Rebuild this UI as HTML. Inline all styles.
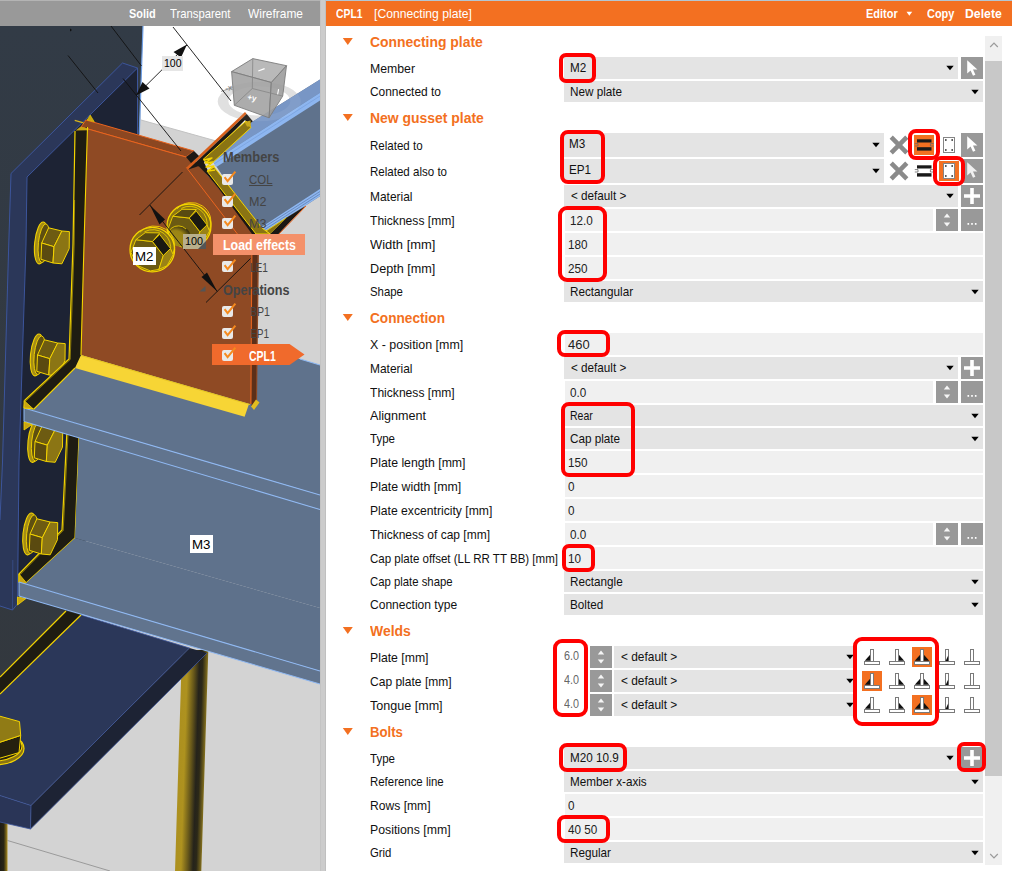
<!DOCTYPE html>
<html><head><meta charset="utf-8"><title>CPL1 Connecting plate</title><style>
html,body{margin:0;padding:0;background:#fff;}
body{width:1012px;height:871px;position:relative;overflow:hidden;font-family:"Liberation Sans",sans-serif;}
.r{position:absolute;display:block;box-sizing:content-box;}
.t{position:absolute;display:block;white-space:pre;transform-origin:0 50%;}
</style></head>
<body>
<svg class="r" style="left:0px;top:0px;" width="320" height="871" viewBox="0 0 320 871"><defs><linearGradient id="ag" x1="0" y1="0" x2="1" y2="0"><stop offset="0" stop-color="#ac901f"/><stop offset="0.22" stop-color="#ae921f"/><stop offset="0.48" stop-color="#65561a"/><stop offset="0.68" stop-color="#25231b"/><stop offset="0.8" stop-color="#2b2818"/><stop offset="1" stop-color="#85711d"/></linearGradient><linearGradient id="ag2" x1="0" y1="0" x2="1" y2="0"><stop offset="0" stop-color="#1f1d15"/><stop offset="0.5" stop-color="#2a2614"/><stop offset="1" stop-color="#a88a1c"/></linearGradient><linearGradient id="colg" x1="0" y1="0" x2="0" y2="1"><stop offset="0" stop-color="#323b46"/><stop offset="1" stop-color="#33383e"/></linearGradient></defs><rect x="0" y="0" width="320" height="871" fill="#d3d3d3"/><polygon points="139,26 320,26 320,170 141,120" fill="#ffffff" /><line x1="141" y1="120" x2="320" y2="170" stroke="#c2c2c2" stroke-width="1" /><line x1="7.5" y1="840.5" x2="110" y2="871" stroke="#9a9a9a" stroke-width="1" /><polygon points="0,26 143,26 139,140 100,400 80,600 82,616 0,695" fill="url(#colg)" /><line x1="143" y1="26" x2="139.3" y2="134" stroke="#6fa0e6" stroke-width="1.2" /><rect x="182" y="650" width="26.3" height="222" fill="url(#ag)" transform="translate(0,650) skewX(-1.81) translate(0,-650)"/><polygon points="0,822 7.5,822 7.5,871 0,871" fill="url(#ag2)" /><polygon points="81,615 189.5,648 31,805.5 0,795.5 0,694" fill="#2b3759" /><polygon points="189.5,648 207,653 30.5,829 31,805.5" fill="#1d2334" /><polygon points="0,795.5 31,805.5 30.5,829 0,822" fill="#2a3557" /><polyline points="81,615 189.5,648 31,805.5 0,795.5" fill="none" stroke="#3c559c" stroke-width="0.8" stroke-linejoin="round"/><polyline points="207,653 30.5,829 31,805.5" fill="none" stroke="#3c559c" stroke-width="0.8" stroke-linejoin="round"/><line x1="30.5" y1="829" x2="0" y2="822" stroke="#3c559c" stroke-width="0.8" /><polygon points="66,611 81,615 0,694 0,677" fill="#1e1c12" /><line x1="66" y1="611" x2="0" y2="677" stroke="#f4d400" stroke-width="1.2" /><line x1="81" y1="615" x2="0" y2="694" stroke="#f4d400" stroke-width="1.2" /><ellipse cx="-6" cy="748.5" rx="30" ry="16.5" fill="#8a7413" stroke="#f4d400" stroke-width="1.2"/><ellipse cx="-6" cy="746" rx="28" ry="15" fill="#25210f" stroke="#f4d400" stroke-width="1.1"/><polygon points="-3,743.2 20.7,735.4 19,752.6 -3,759" fill="#25210f" stroke="#f4d400" stroke-width="1" stroke-linejoin="round" /><polygon points="-3,715.4 19.5,721.6 20.7,735.4 -3,743.2" fill="#907b15" stroke="#f4d400" stroke-width="1" stroke-linejoin="round" /><polygon points="122.5,63 137.5,68 27,177 26,244 19,462 17.5,604 12.5,610 0,606 0,520 2.5,462 8.75,244 11,173.5" fill="#2b3759" /><polygon points="137.5,68 137.5,140 90,300 70,540 17.5,604 19,462 26,244 27,177" fill="#1d2334" /><polyline points="11,173.5 122.5,63 137.5,68 27,177 26,244 19,462 17.5,604" fill="none" stroke="#3c559c" stroke-width="1" stroke-linejoin="round"/><polyline points="11,173.5 8.75,244 2.5,462 0,520" fill="none" stroke="#3c559c" stroke-width="1" stroke-linejoin="round"/><line x1="137.5" y1="68" x2="137.5" y2="134" stroke="#3c559c" stroke-width="1" /><polyline points="0,606 12.5,610 17.5,604" fill="none" stroke="#3c559c" stroke-width="1" stroke-linejoin="round"/><line x1="12.5" y1="610" x2="12.8" y2="560" stroke="#3c559c" stroke-width="0.6" /><polygon points="67,430 79.5,436 75.5,538 25,584 19,582 19,574 62,530" fill="#1e1c12" /><polyline points="67,430 62,530 19,574 19,582" fill="none" stroke="#f4d400" stroke-width="1.2" stroke-linejoin="round"/><polyline points="68.2,431 63.2,530.5 20,574.8" fill="none" stroke="#f4d400" stroke-width="0.5" stroke-linejoin="round"/><polyline points="79,436 75,538 25,584" fill="none" stroke="#f4d400" stroke-width="1.1" stroke-linejoin="round"/><polygon points="19,574 19,583 27,583.5" fill="#c8a414" stroke="#f4d400" stroke-width="0.8" stroke-linejoin="round" /><polygon points="17.5,597 17.5,605 26,598.5" fill="#c8a414" stroke="#f4d400" stroke-width="0.8" stroke-linejoin="round" /><ellipse cx="41.2" cy="243" rx="6.5" ry="21.0" fill="#a48c16" stroke="#f4d400" stroke-width="1.1" transform="rotate(6 41.7 243)"/><ellipse cx="43.900000000000006" cy="243" rx="5.5" ry="19.5" fill="#5e4f11" stroke="#f4d400" stroke-width="0.9" transform="rotate(6 41.7 243)"/><polygon points="48.6,227.8 61.9,231.0 54.0,246.7 41.7,243.0" fill="#6d5b12" stroke="#f4d400" stroke-width="1" stroke-linejoin="round"/><polygon points="41.7,243.0 54.0,246.7 53.0,263.0 41.0,259.3" fill="#5a4a10" stroke="#f4d400" stroke-width="1" stroke-linejoin="round"/><polygon points="61.9,231.0 69.4,231.6 69.2,248.6 61.9,263.8 53.0,263.0 54.0,246.7" fill="#8b7514" stroke="#f4d400" stroke-width="1" stroke-linejoin="round"/><ellipse cx="37.0" cy="355" rx="6.5" ry="21.0" fill="#a48c16" stroke="#f4d400" stroke-width="1.1" transform="rotate(6 37.5 355)"/><ellipse cx="39.7" cy="355" rx="5.5" ry="19.5" fill="#5e4f11" stroke="#f4d400" stroke-width="0.9" transform="rotate(6 37.5 355)"/><polygon points="44.4,339.8 57.7,343.0 49.8,358.7 37.5,355.0" fill="#6d5b12" stroke="#f4d400" stroke-width="1" stroke-linejoin="round"/><polygon points="37.5,355.0 49.8,358.7 48.8,375.0 36.8,371.3" fill="#5a4a10" stroke="#f4d400" stroke-width="1" stroke-linejoin="round"/><polygon points="57.7,343.0 65.2,343.6 65.0,360.6 57.7,375.8 48.8,375.0 49.8,358.7" fill="#8b7514" stroke="#f4d400" stroke-width="1" stroke-linejoin="round"/><ellipse cx="29.5" cy="534" rx="6.5" ry="21.0" fill="#a48c16" stroke="#f4d400" stroke-width="1.1" transform="rotate(6 30 534)"/><ellipse cx="32.2" cy="534" rx="5.5" ry="19.5" fill="#5e4f11" stroke="#f4d400" stroke-width="0.9" transform="rotate(6 30 534)"/><polygon points="36.9,518.8 50.2,522.0 42.3,537.7 30.0,534.0" fill="#6d5b12" stroke="#f4d400" stroke-width="1" stroke-linejoin="round"/><polygon points="30.0,534.0 42.3,537.7 41.3,554.0 29.3,550.3" fill="#5a4a10" stroke="#f4d400" stroke-width="1" stroke-linejoin="round"/><polygon points="50.2,522.0 57.7,522.6 57.5,539.6 50.2,554.8 41.3,554.0 42.3,537.7" fill="#8b7514" stroke="#f4d400" stroke-width="1" stroke-linejoin="round"/><polygon points="75,368 34,409 24,408 320,495 320,365 300,359 258,346.5 81,350" fill="#5f728c" /><clipPath id="b3c"><rect x="0" y="421" width="120" height="60"/></clipPath><polygon points="79,437 320,509.5 320,608 75,538" fill="#5f728c" /><polygon points="75,538 320,608 320,671 19,582 25,584" fill="#5e718b" /><ellipse cx="34.5" cy="441.5" rx="6.5" ry="21.0" fill="#a48c16" stroke="#f4d400" stroke-width="1.1" transform="rotate(6 35 441.5)"/><ellipse cx="37.2" cy="441.5" rx="5.5" ry="19.5" fill="#5e4f11" stroke="#f4d400" stroke-width="0.9" transform="rotate(6 35 441.5)"/><polygon points="41.9,426.3 55.2,429.5 47.3,445.2 35.0,441.5" fill="#6d5b12" stroke="#f4d400" stroke-width="1" stroke-linejoin="round"/><polygon points="35.0,441.5 47.3,445.2 46.3,461.5 34.3,457.8" fill="#5a4a10" stroke="#f4d400" stroke-width="1" stroke-linejoin="round"/><polygon points="55.2,429.5 62.7,430.1 62.5,447.1 55.2,462.3 46.3,461.5 47.3,445.2" fill="#8b7514" stroke="#f4d400" stroke-width="1" stroke-linejoin="round"/><polygon points="24,408 320,495 320,509.5 24,421.5" fill="#61748e" /><line x1="24" y1="408" x2="320" y2="495" stroke="#8fb8f2" stroke-width="1.1" /><line x1="24" y1="421.5" x2="320" y2="509.5" stroke="#8fb8f2" stroke-width="1.1" /><line x1="24" y1="408" x2="24" y2="421.5" stroke="#8fb8f2" stroke-width="1" /><polygon points="24,422 24,430 32,424.5" fill="#c8a414" stroke="#f4d400" stroke-width="0.8" stroke-linejoin="round" /><polygon points="19,582 320,671 320,684 19,596" fill="#61748e" /><line x1="19" y1="582" x2="320" y2="671" stroke="#8fb8f2" stroke-width="1.1" /><line x1="19" y1="596" x2="320" y2="684" stroke="#8fb8f2" stroke-width="1.1" /><line x1="19" y1="582" x2="19" y2="596" stroke="#8fb8f2" stroke-width="1" /><line x1="300" y1="359" x2="320" y2="365" stroke="#8fb8f2" stroke-width="1.1" /><polygon points="86,120 194,151 186,157 81,127" fill="#8c4721" stroke="#ea641e" stroke-width="1" stroke-linejoin="round" /><polygon points="81,127 186,157 196,162 262,238 259,250 257,404 250,404 81,355" fill="#8f4a24" /><polygon points="252,238 257.5,246 256,406 251.5,406" fill="#5c2f19" /><line x1="252" y1="240" x2="250.8" y2="404" stroke="#ea641e" stroke-width="1" /><polyline points="81,127 186,157" fill="none" stroke="#ea641e" stroke-width="1" stroke-linejoin="round"/><line x1="186.4" y1="167.5" x2="252" y2="253" stroke="#ea641e" stroke-width="1" /><polygon points="90.2,115.1 94.3,121.8 87.1,120" fill="#c8a414" stroke="#f4d400" stroke-width="0.6" stroke-linejoin="round" /><line x1="74.7" y1="120.3" x2="83.5" y2="122.8" stroke="#d8b51c" stroke-width="1.2" /><polygon points="75,360 81,355 249,404 244.6,416.8 75,368" fill="#f7d535" /><polygon points="256,399.5 259.5,402.5 254,410 251,406.5" fill="#e2bd20" /><line x1="81" y1="355.5" x2="250" y2="404.5" stroke="#e8c420" stroke-width="1" /><polygon points="75,131 73,244 69,359 25,400 24,408 34,409 75,368 81,355 84,244 87.5,127" fill="#1e1c12" /><polygon points="75.6,130.6 80.5,126.7 88.5,128.5 88.3,130.2" fill="#c8a414" /><polyline points="75,131 73,244 69,359 25,400 24,408" fill="none" stroke="#f4d400" stroke-width="1.2" stroke-linejoin="round"/><polyline points="87.5,127 84,244 81,355" fill="none" stroke="#f4d400" stroke-width="1.1" stroke-linejoin="round"/><polyline points="74.6,200 74.2,244 70.2,359.5 26,400.8" fill="none" stroke="#f4d400" stroke-width="0.5" stroke-linejoin="round"/><polyline points="24,408 34,409 75,368" fill="none" stroke="#f4d400" stroke-width="1.1" stroke-linejoin="round"/><polygon points="24,400.5 24,408 33,408.7" fill="#c8a414" stroke="#f4d400" stroke-width="0.8" stroke-linejoin="round" /><path d="M217.7 101.5 a41.6 19.8 0 1 0 83.2 0 a41.6 19.8 0 1 0 -83.2 0 Z M228.3 101 a31 14.6 0 1 1 62 0 a31 14.6 0 1 1 -62 0 Z" fill="#dedede" fill-rule="evenodd"/><polygon points="186.4,167.5 245,112 246.7,114 188.3,169.4" fill="#d8601c" /><polygon points="188.3,169.4 246.7,114 253,121.5 249,125 245,120 201,165 196,167" fill="#1c1814" /><polygon points="186,157 194,151 199,156 191,163" fill="#1c1814" /><polygon points="195,165 203,160 208,171 257,234 252,234 218.6,188.4 207.9,175.8 199,166.5" fill="#1c1814" /><polygon points="213,161.5 252,122 320,79.6 320,196.3 266,231 262,234" fill="#5f728c" /><polygon points="213,161.5 252,122 320,79.6 320,92.7" fill="#7896c5" /><polygon points="213,161.5 320,92.7 320,100.4 216.4,167" fill="#8db6f0" /><line x1="214" y1="164" x2="320" y2="96" stroke="#7aa2de" stroke-width="0.8" /><polygon points="260,227.9 320,189 320,196.3 266,231" fill="#8db6f0" /><line x1="262" y1="228.5" x2="320" y2="191.5" stroke="#5a78a8" stroke-width="0.7" /><line x1="264" y1="230" x2="320" y2="194" stroke="#5a78a8" stroke-width="0.7" /><polygon points="266,231 286.8,217.5 270,234" fill="#8a7413" stroke="#f4d400" stroke-width="0.8" stroke-linejoin="round" /><polygon points="270,234 278.5,234 305.4,206 286.8,217.5" fill="#1c1814" /><line x1="278.5" y1="234.5" x2="306" y2="206" stroke="#ea641e" stroke-width="1" /><polygon points="203,159.5 246,121 251,127.5 210,165" fill="#8a7413" stroke="#f4d400" stroke-width="1" stroke-linejoin="round" /><polygon points="244.5,122 250.5,120.5 251,126.5 247,126.5" fill="#c9a91c" /><polygon points="207,171 214,167 262,228 266,231 270,234 256,234" fill="#8a7413" stroke="#f4d400" stroke-width="1" stroke-linejoin="round" /><polyline points="204,160 212,158 205,163 213,162 206,167 214,166 208,171 215,170" fill="none" stroke="#f4d400" stroke-width="1.3" stroke-linejoin="round"/><defs><radialGradient id="shk" cx="0.3" cy="0.65" r="0.8"><stop offset="0" stop-color="#a18b15"/><stop offset="0.55" stop-color="#9a8414"/><stop offset="0.85" stop-color="#4a4010"/><stop offset="1" stop-color="#2a2510"/></radialGradient></defs><circle cx="189" cy="226" r="22" fill="#8a7413" stroke="#f4d400" stroke-width="1.3"/><path d="M176.9 208.84 A19.8 19.8 0 0 1 209.46 230.4" fill="none" stroke="#f4d400" stroke-width="0.9"/><path d="M181.3 208.4 A17.5 17.5 0 0 1 206.6 228.2" fill="none" stroke="#f4d400" stroke-width="0.8"/><polygon points="168.0,229.0 172.8,216.2 189.2,218.0 199.9,231.8 195.5,245.5 187.0,247.0 175.0,242.0" fill="#6b5a12" stroke="#f4d400" stroke-width="0.9" stroke-linejoin="round"/><polygon points="172.8,216.2 182.0,209.3 196.3,209.5 189.2,218.0" fill="#594b11" stroke="#f4d400" stroke-width="0.9" stroke-linejoin="round"/><polygon points="199.9,231.8 207.0,224.9 209.6,231.0 203.5,242.0 195.5,245.5" fill="#9a8216" stroke="#f4d400" stroke-width="0.9" stroke-linejoin="round"/><polygon points="189.2,218.0 196.3,211.1 207.0,224.9 199.9,231.8" fill="#1a1912" stroke="#f4d400" stroke-width="0.9" stroke-linejoin="round"/><ellipse cx="179.5" cy="236.5" rx="11" ry="10" fill="url(#shk)"/><path d="M170.5 242 A10 9.2 0 0 1 186 229" fill="none" stroke="#f4d400" stroke-width="0.8"/><circle cx="152.3" cy="249.6" r="22.3" fill="#8a7413" stroke="#f4d400" stroke-width="1.3"/><path d="M140.03500000000003 232.206 A20.1 20.1 0 0 1 173.03900000000002 254.06" fill="none" stroke="#f4d400" stroke-width="0.9"/><path d="M144.495 231.76 A17.8 17.8 0 0 1 170.14000000000001 251.82999999999998" fill="none" stroke="#f4d400" stroke-width="0.8"/><polygon points="131.0,252.6 135.9,239.7 152.5,241.5 163.3,255.5 158.9,269.4 150.3,270.9 138.1,265.8" fill="#6b5a12" stroke="#f4d400" stroke-width="0.9" stroke-linejoin="round"/><polygon points="135.9,239.7 145.2,232.7 159.7,232.9 152.5,241.5" fill="#594b11" stroke="#f4d400" stroke-width="0.9" stroke-linejoin="round"/><polygon points="163.3,255.5 170.5,248.5 173.2,254.7 167.0,265.8 158.9,269.4" fill="#9a8216" stroke="#f4d400" stroke-width="0.9" stroke-linejoin="round"/><polygon points="152.5,241.5 159.7,234.5 170.5,248.5 163.3,255.5" fill="#1a1912" stroke="#f4d400" stroke-width="0.9" stroke-linejoin="round"/><path d="M217.7 101.5 a41.6 19.8 0 1 0 83.2 0 a41.6 19.8 0 1 0 -83.2 0 Z M228.3 101 a31 14.6 0 1 1 62 0 a31 14.6 0 1 1 -62 0 Z" fill="#ffffff" fill-opacity="0.07" fill-rule="evenodd"/><polygon points="231.6,71.6 252.8,58.6 286.5,65.7 271.3,82.5" fill="#b1b1b1" stroke="#7d7d7d" stroke-width="0.9" stroke-linejoin="round" fill-opacity="0.9"/><polygon points="231.6,71.6 271.3,82.5 269.1,117.8 234.3,105.3" fill="#a3a3a3" stroke="#7d7d7d" stroke-width="0.9" stroke-linejoin="round" fill-opacity="0.9"/><polygon points="271.3,82.5 286.5,65.7 282.7,96.1 269.1,117.8" fill="#9c9c9c" stroke="#7d7d7d" stroke-width="0.9" stroke-linejoin="round" fill-opacity="0.9"/><polyline points="252.8,58.6 252.3,88.5 234.3,105.3" fill="none" stroke="#858585" stroke-width="0.8" stroke-linejoin="round"/><line x1="252.3" y1="88.5" x2="282.7" y2="96.1" stroke="#858585" stroke-width="0.8" /><line x1="258.3" y1="71" x2="264.6" y2="68.6" stroke="#fff" stroke-width="1.3" /><line x1="278.6" y1="89.2" x2="277.6" y2="94.3" stroke="#fff" stroke-width="1.1" /><text x="247" y="99.5" font-family="Liberation Sans, sans-serif" font-size="8" font-weight="700" fill="#fff" transform="rotate(12 247 99.5)">+y</text><text x="226" y="91.5" font-family="Liberation Sans, sans-serif" font-size="8" font-weight="700" fill="#8c8c8c" transform="rotate(-12 225 92)">-x</text><line x1="221" y1="91.5" x2="232.5" y2="87.5" stroke="#8c8c8c" stroke-width="0.8" /><line x1="111" y1="26" x2="141.5" y2="66" stroke="#111" stroke-width="0.9" /><line x1="173" y1="27" x2="231" y2="101" stroke="#111" stroke-width="0.9" /><line x1="187" y1="45" x2="136.5" y2="95" stroke="#111" stroke-width="0.9" /><line x1="123" y1="78.5" x2="181" y2="151" stroke="#111" stroke-width="0.9" /><line x1="68" y1="55.5" x2="98" y2="93" stroke="#111" stroke-width="0.9" /><polygon points="187,44.5 173.5,52 181,57.5" fill="#111" /><polygon points="136,95.5 149.5,88.5 142.5,82" fill="#111" /><polygon points="70,28.5 72,30 70,31.5" fill="#111" /><line x1="182.5" y1="172" x2="139.5" y2="215" stroke="#111" stroke-width="0.9" /><line x1="149.8" y1="205" x2="217.3" y2="291.6" stroke="#111" stroke-width="0.9" /><line x1="250.5" y1="258.5" x2="206" y2="302.5" stroke="#111" stroke-width="0.9" /><polygon points="149.8,205 165,219.5 159.5,224.5" fill="#111" /><polygon points="217.3,291.6 207,272.5 201.5,277" fill="#111" /></svg>
<div class="r" style="left:161.5px;top:56px;width:21.5px;height:14.5px;background:#e6e6e6;"></div>
<span class="t" style="left:163.5px;top:55.8px;height:15px;line-height:15px;font-size:11px;color:#000;transform:scaleX(0.954);">100</span>
<div class="r" style="left:183px;top:234px;width:23px;height:14.5px;background:#b9b08c;"></div>
<svg class="r" style="left:198px;top:241px;" width="8" height="8" viewBox="0 0 8 8"><path d="M8 0 L8 8 L0 8 Z" fill="#555"/></svg>
<span class="t" style="left:185px;top:233.8px;height:15px;line-height:15px;font-size:11px;color:#000;transform:scaleX(0.981);">100</span>
<div class="r" style="left:133px;top:247px;width:23px;height:18px;background:#ffffff;"></div>
<span class="t" style="left:135px;top:247.5px;height:17px;line-height:17px;font-size:13px;color:#000;transform:scaleX(1.024);">M2</span>
<div class="r" style="left:189.5px;top:535px;width:23.5px;height:18px;background:#ffffff;"></div>
<span class="t" style="left:191.5px;top:535.5px;height:17px;line-height:17px;font-size:13px;color:#000;transform:scaleX(1.024);">M3</span>
<span class="t" style="left:222.5px;top:148.0px;height:18px;line-height:18px;font-size:14px;color:#444;transform:scaleX(0.919);font-weight:700;">Members</span>
<div class="r" style="left:222px;top:173.5px;width:11px;height:11px;background:#e9e9e9;border-radius:2px;"></div>
<svg class="r" style="left:222px;top:170px;" width="16" height="16" viewBox="0 0 16 16"><path d="M2.6 7.2 L5.6 11.2 L13.4 1.6" fill="none" stroke="#f58a1f" stroke-width="2"/></svg>
<span class="t" style="left:249px;top:171.0px;height:17px;line-height:17px;font-size:13px;color:#444;transform:scaleX(0.879);text-decoration:underline;">COL</span>
<div class="r" style="left:222px;top:195.5px;width:11px;height:11px;background:#e9e9e9;border-radius:2px;"></div>
<svg class="r" style="left:222px;top:192px;" width="16" height="16" viewBox="0 0 16 16"><path d="M2.6 7.2 L5.6 11.2 L13.4 1.6" fill="none" stroke="#f58a1f" stroke-width="2"/></svg>
<span class="t" style="left:249px;top:193.0px;height:17px;line-height:17px;font-size:13px;color:#444;transform:scaleX(0.969);">M2</span>
<div class="r" style="left:222px;top:217.5px;width:11px;height:11px;background:#e9e9e9;border-radius:2px;"></div>
<svg class="r" style="left:222px;top:214px;" width="16" height="16" viewBox="0 0 16 16"><path d="M2.6 7.2 L5.6 11.2 L13.4 1.6" fill="none" stroke="#f58a1f" stroke-width="2"/></svg>
<span class="t" style="left:249px;top:215.0px;height:17px;line-height:17px;font-size:13px;color:#444;transform:scaleX(0.969);">M3</span>
<div class="r" style="left:213px;top:234px;width:92px;height:21px;background:#f4916a;"></div>
<span class="t" style="left:222.5px;top:235.5px;height:18px;line-height:18px;font-size:14px;color:#fff;transform:scaleX(0.885);font-weight:700;">Load effects</span>
<div class="r" style="left:222px;top:261.0px;width:11px;height:11px;background:#e9e9e9;border-radius:2px;"></div>
<svg class="r" style="left:222px;top:257.5px;" width="16" height="16" viewBox="0 0 16 16"><path d="M2.6 7.2 L5.6 11.2 L13.4 1.6" fill="none" stroke="#f58a1f" stroke-width="2"/></svg>
<span class="t" style="left:249.5px;top:258.5px;height:17px;line-height:17px;font-size:13px;color:#444;transform:scaleX(0.778);">LE1</span>
<svg class="r" style="left:199px;top:286px;" width="7" height="6" viewBox="0 0 7 6"><path d="M6.5 0 L6.5 5.5 L0.5 5.5 Z" fill="#555"/></svg>
<span class="t" style="left:222.5px;top:280.5px;height:18px;line-height:18px;font-size:14px;color:#444;transform:scaleX(0.900);font-weight:700;">Operations</span>
<div class="r" style="left:222px;top:305.5px;width:11px;height:11px;background:#e9e9e9;border-radius:2px;"></div>
<svg class="r" style="left:222px;top:302px;" width="16" height="16" viewBox="0 0 16 16"><path d="M2.6 7.2 L5.6 11.2 L13.4 1.6" fill="none" stroke="#f58a1f" stroke-width="2"/></svg>
<span class="t" style="left:249.5px;top:303.0px;height:17px;line-height:17px;font-size:13px;color:#444;transform:scaleX(0.814);">BP1</span>
<div class="r" style="left:222px;top:327.5px;width:11px;height:11px;background:#e9e9e9;border-radius:2px;"></div>
<svg class="r" style="left:222px;top:324px;" width="16" height="16" viewBox="0 0 16 16"><path d="M2.6 7.2 L5.6 11.2 L13.4 1.6" fill="none" stroke="#f58a1f" stroke-width="2"/></svg>
<span class="t" style="left:249.5px;top:325.0px;height:17px;line-height:17px;font-size:13px;color:#444;transform:scaleX(0.773);">EP1</span>
<svg class="r" style="left:212px;top:344px;" width="94" height="22" viewBox="0 0 94 22"><path d="M0 0 H77.5 L92.5 10.5 L77.5 21 H0 Z" fill="#f06a2c"/></svg>
<div class="r" style="left:222px;top:349.5px;width:11px;height:11px;background:#e9e9e9;border-radius:2px;"></div>
<svg class="r" style="left:222px;top:346px;" width="16" height="16" viewBox="0 0 16 16"><path d="M2.6 7.2 L5.6 11.2 L13.4 1.6" fill="none" stroke="#f58a1f" stroke-width="2"/></svg>
<span class="t" style="left:249px;top:346.5px;height:18px;line-height:18px;font-size:14px;color:#fff;transform:scaleX(0.749);font-weight:700;">CPL1</span>
<div class="r" style="left:0px;top:0px;width:320px;height:1px;background:#b4b4b4;"></div>
<div class="r" style="left:0px;top:1px;width:320px;height:25px;background:#999999;"></div>
<span class="t" style="left:128.8px;top:5.0px;height:17px;line-height:17px;font-size:13px;color:#fff;transform:scaleX(0.840);font-weight:700;">Solid</span>
<span class="t" style="left:170px;top:5.0px;height:17px;line-height:17px;font-size:13px;color:#fff;transform:scaleX(0.869);">Transparent</span>
<span class="t" style="left:248px;top:5.0px;height:17px;line-height:17px;font-size:13px;color:#fff;transform:scaleX(0.917);">Wireframe</span>
<div class="r" style="left:320px;top:0px;width:6px;height:871px;background:#cccccc;"></div>
<div class="r" style="left:320px;top:0px;width:1px;height:871px;background:#c4c4c4;"></div>
<div class="r" style="left:325px;top:0px;width:1px;height:871px;background:#c0c0c0;"></div>
<div class="r" style="left:326px;top:0px;width:686px;height:1px;background:#b4c6d2;"></div>
<div class="r" style="left:326px;top:1px;width:686px;height:25px;background:#f37021;"></div>
<span class="t" style="left:336px;top:5.0px;height:17px;line-height:17px;font-size:13px;color:#fff;transform:scaleX(0.797);font-weight:700;">CPL1</span>
<span class="t" style="left:373.5px;top:5.0px;height:17px;line-height:17px;font-size:13px;color:#fff;transform:scaleX(0.935);">[Connecting plate]</span>
<span class="t" style="left:866.3px;top:5.0px;height:17px;line-height:17px;font-size:13px;color:#fff;transform:scaleX(0.844);font-weight:700;">Editor</span>
<svg class="r" style="left:906px;top:11px;" width="7" height="6" viewBox="0 0 7 6"><path d="M0.5 0.8 L6.2 0.8 L3.35 4.8 Z" fill="#fff"/></svg>
<span class="t" style="left:926.8px;top:5.0px;height:17px;line-height:17px;font-size:13px;color:#fff;transform:scaleX(0.843);font-weight:700;">Copy</span>
<span class="t" style="left:964.5px;top:5.0px;height:17px;line-height:17px;font-size:13px;color:#fff;transform:scaleX(0.943);font-weight:700;">Delete</span>
<div class="r" style="left:985px;top:36px;width:17px;height:829px;background:#f0f0f0;"></div>
<div class="r" style="left:985px;top:61px;width:17px;height:715px;background:#c8c8c8;"></div>
<svg class="r" style="left:989px;top:41px;" width="10" height="8" viewBox="0 0 10 8"><path d="M1.2 6 L5 2.2 L8.8 6" fill="none" stroke="#9a9a9a" stroke-width="1.2"/></svg>
<svg class="r" style="left:989px;top:852px;" width="10" height="8" viewBox="0 0 10 8"><path d="M1.2 2 L5 5.8 L8.8 2" fill="none" stroke="#9a9a9a" stroke-width="1.2"/></svg>
<svg class="r" style="left:342px;top:37px;" width="12" height="9" viewBox="0 0 12 9"><path d="M0.8 1 L10.8 1 L5.8 8 Z" fill="#f37021"/></svg>
<span class="t" style="left:370px;top:33.0px;height:18px;line-height:18px;font-size:14px;color:#f37021;transform:scaleX(0.993);font-weight:700;">Connecting plate</span>
<span class="t" style="left:370px;top:59.9px;height:17px;line-height:17px;font-size:13px;color:#111;transform:scaleX(0.944);">Member</span>
<div class="r" style="left:564px;top:57px;width:394px;height:22px;background:#e4e4e4;"></div>
<span class="t" style="left:570.3px;top:59.0px;height:17px;line-height:17px;font-size:13px;color:#111;transform:scaleX(0.900);">M2</span>
<svg class="r" style="left:945.5px;top:65.3px;" width="8" height="6" viewBox="0 0 8 6"><path d="M0.3 0.8 L7.7 0.8 L4 5.2 Z" fill="#000"/></svg>
<div class="r" style="left:961px;top:57px;width:22px;height:22px;background:#999999;"></div>
<svg class="r" style="left:961px;top:57px;" width="22" height="22" viewBox="0 0 22 22"><path d="M6.2 3.2 L6.2 16.6 L9.6 13.6 L12 18.8 L14.4 17.7 L12 12.6 L16.4 12.4 Z" fill="#fff" fill-opacity="1.0"/></svg>
<span class="t" style="left:370px;top:83.4px;height:17px;line-height:17px;font-size:13px;color:#111;transform:scaleX(0.917);">Connected to</span>
<div class="r" style="left:564px;top:81px;width:419px;height:21px;background:#e4e4e4;"></div>
<span class="t" style="left:570.3px;top:82.5px;height:17px;line-height:17px;font-size:13px;color:#111;transform:scaleX(0.900);">New plate</span>
<svg class="r" style="left:970.5px;top:88.8px;" width="8" height="6" viewBox="0 0 8 6"><path d="M0.3 0.8 L7.7 0.8 L4 5.2 Z" fill="#000"/></svg>
<div class="r" style="left:559px;top:53px;width:29px;height:22px;border:4px solid #ff0000;border-radius:7px;z-index:5"></div>
<svg class="r" style="left:342px;top:113px;" width="12" height="9" viewBox="0 0 12 9"><path d="M0.8 1 L10.8 1 L5.8 8 Z" fill="#f37021"/></svg>
<span class="t" style="left:370px;top:109.0px;height:18px;line-height:18px;font-size:14px;color:#f37021;transform:scaleX(0.995);font-weight:700;">New gusset plate</span>
<span class="t" style="left:370px;top:136.9px;height:17px;line-height:17px;font-size:13px;color:#111;transform:scaleX(0.888);">Related to</span>
<div class="r" style="left:564px;top:133px;width:320px;height:24px;background:#e4e4e4;"></div>
<span class="t" style="left:569.3px;top:135.0px;height:17px;line-height:17px;font-size:13px;color:#111;transform:scaleX(0.900);">M3</span>
<svg class="r" style="left:871.5px;top:142.3px;" width="8" height="6" viewBox="0 0 8 6"><path d="M0.3 0.8 L7.7 0.8 L4 5.2 Z" fill="#000"/></svg>
<span class="t" style="left:370px;top:162.9px;height:17px;line-height:17px;font-size:13px;color:#111;transform:scaleX(0.888);">Related also to</span>
<div class="r" style="left:564px;top:159px;width:320px;height:24px;background:#e4e4e4;"></div>
<span class="t" style="left:569.3px;top:161.0px;height:17px;line-height:17px;font-size:13px;color:#111;transform:scaleX(0.900);">EP1</span>
<svg class="r" style="left:871.5px;top:168.3px;" width="8" height="6" viewBox="0 0 8 6"><path d="M0.3 0.8 L7.7 0.8 L4 5.2 Z" fill="#000"/></svg>
<svg class="r" style="left:887px;top:133px;" width="24" height="24" viewBox="0 0 24 24"><path d="M2.6 5.8 L5.8 2.6 L12 8.8 L18.2 2.6 L21.4 5.8 L15.2 12 L21.4 18.2 L18.2 21.4 L12 15.2 L5.8 21.4 L2.6 18.2 L8.8 12 Z" fill="#8a8a8a"/></svg>
<svg class="r" style="left:887px;top:159px;" width="24" height="24" viewBox="0 0 24 24"><path d="M2.6 5.8 L5.8 2.6 L12 8.8 L18.2 2.6 L21.4 5.8 L15.2 12 L21.4 18.2 L18.2 21.4 L12 15.2 L5.8 21.4 L2.6 18.2 L8.8 12 Z" fill="#8a8a8a"/></svg>
<div class="r" style="left:914px;top:135px;width:20px;height:20px;background:#f37021;"></div>
<svg class="r" style="left:914px;top:135px;" width="20" height="20" viewBox="0 0 20 20"><rect x="3" y="4.3" width="14.5" height="3.2" fill="#1a1a1a"/><rect x="3" y="12.2" width="14.5" height="3.4" fill="#1a1a1a"/><path d="M0.8 8.6 H4 V11 H0.8 M19.6 8.6 H16.4 V11 H19.6" stroke="#666" stroke-width="0.8" fill="none"/></svg>
<svg class="r" style="left:914px;top:160.5px;" width="20" height="20" viewBox="0 0 20 20"><rect x="3" y="5" width="14.5" height="10.5" fill="#fff"/><rect x="3" y="4.3" width="14.5" height="3.2" fill="#1a1a1a"/><rect x="3" y="12.2" width="14.5" height="3.4" fill="#1a1a1a"/><path d="M0.8 8.6 H4 V11 H0.8 M19.6 8.6 H16.4 V11 H19.6" stroke="#666" stroke-width="0.8" fill="none"/></svg>
<svg class="r" style="left:939px;top:135px;" width="20" height="20" viewBox="0 0 20 20"><rect x="4.5" y="2.5" width="11" height="15" fill="#fff" stroke="#858585" stroke-width="1"/><rect x="6" y="4.2" width="1.6" height="1.6" fill="#333"/><rect x="12.4" y="4.2" width="1.6" height="1.6" fill="#333"/><rect x="6" y="14.2" width="1.6" height="1.6" fill="#333"/><rect x="12.4" y="14.2" width="1.6" height="1.6" fill="#333"/></svg>
<div class="r" style="left:939px;top:160.5px;width:20px;height:20px;background:#f37021;"></div>
<svg class="r" style="left:939px;top:160.5px;" width="20" height="20" viewBox="0 0 20 20"><rect x="4.5" y="2.5" width="11" height="15" fill="#fff" stroke="#858585" stroke-width="1"/><rect x="6" y="4.2" width="1.6" height="1.6" fill="#333"/><rect x="12.4" y="4.2" width="1.6" height="1.6" fill="#333"/><rect x="6" y="14.2" width="1.6" height="1.6" fill="#333"/><rect x="12.4" y="14.2" width="1.6" height="1.6" fill="#333"/></svg>
<div class="r" style="left:961px;top:133px;width:22px;height:24px;background:#999999;"></div>
<svg class="r" style="left:961px;top:133px;" width="22" height="24" viewBox="0 0 22 24"><path d="M6.2 3.2 L6.2 16.6 L9.6 13.6 L12 18.8 L14.4 17.7 L12 12.6 L16.4 12.4 Z" fill="#fff" fill-opacity="1.0"/></svg>
<div class="r" style="left:961px;top:159px;width:22px;height:24px;background:#999999;"></div>
<svg class="r" style="left:961px;top:159px;" width="22" height="24" viewBox="0 0 22 24"><path d="M6.2 3.2 L6.2 16.6 L9.6 13.6 L12 18.8 L14.4 17.7 L12 12.6 L16.4 12.4 Z" fill="#fff" fill-opacity="0.85"/></svg>
<div class="r" style="left:560px;top:130px;width:37px;height:46px;border:4px solid #ff0000;border-radius:8px;z-index:5"></div>
<div class="r" style="left:908px;top:129px;width:24px;height:23px;border:4px solid #ff0000;border-radius:8px;z-index:5"></div>
<div class="r" style="left:933px;top:156px;width:24px;height:22px;border:4px solid #ff0000;border-radius:8px;z-index:5"></div>
<span class="t" style="left:370px;top:187.9px;height:17px;line-height:17px;font-size:13px;color:#111;transform:scaleX(0.919);">Material</span>
<div class="r" style="left:564px;top:185px;width:394px;height:22px;background:#e4e4e4;"></div>
<span class="t" style="left:571px;top:187.0px;height:17px;line-height:17px;font-size:13px;color:#111;transform:scaleX(0.900);">&lt; default &gt;</span>
<svg class="r" style="left:945.5px;top:193.3px;" width="8" height="6" viewBox="0 0 8 6"><path d="M0.3 0.8 L7.7 0.8 L4 5.2 Z" fill="#000"/></svg>
<div class="r" style="left:961px;top:185px;width:22px;height:22px;background:#999999;"></div>
<svg class="r" style="left:961px;top:185px;" width="22" height="22" viewBox="0 0 22 22"><path d="M9.2 3 H12.8 V9.2 H19 V12.8 H12.8 V19 H9.2 V12.8 H3 V9.2 H9.2 Z" fill="#fff"/></svg>
<span class="t" style="left:370px;top:211.9px;height:17px;line-height:17px;font-size:13px;color:#111;transform:scaleX(0.930);">Thickness [mm]</span>
<div class="r" style="left:565px;top:209px;width:368px;height:22px;background:#f0f0f0;"></div>
<span class="t" style="left:570px;top:212.1px;height:17px;line-height:17px;font-size:13px;color:#222;transform:scaleX(0.900);">12.0</span>
<div class="r" style="left:936px;top:209px;width:22px;height:22px;background:#999999;"></div>
<svg class="r" style="left:936px;top:209px;" width="22" height="22" viewBox="0 0 22 22"><path d="M7.8 8.6 L11.0 4.6 L14.2 8.6 Z M7.8 13.6 L11.0 17.6 L14.2 13.6 Z" fill="#f6f6f6"/></svg>
<div class="r" style="left:961px;top:209px;width:22px;height:22px;background:#999999;"></div>
<svg class="r" style="left:961px;top:209px;" width="22" height="22" viewBox="0 0 22 22"><rect x="6.5" y="14" width="1.6" height="1.8" fill="#fff"/><rect x="10.2" y="14" width="1.6" height="1.8" fill="#fff"/><rect x="13.9" y="14" width="1.6" height="1.8" fill="#fff"/></svg>
<span class="t" style="left:370px;top:235.9px;height:17px;line-height:17px;font-size:13px;color:#111;transform:scaleX(0.995);">Width [mm]</span>
<div class="r" style="left:565px;top:233px;width:418px;height:22px;background:#f0f0f0;"></div>
<span class="t" style="left:568.3px;top:236.1px;height:17px;line-height:17px;font-size:13px;color:#222;transform:scaleX(0.900);">180</span>
<span class="t" style="left:370px;top:259.9px;height:17px;line-height:17px;font-size:13px;color:#111;transform:scaleX(0.973);">Depth [mm]</span>
<div class="r" style="left:565px;top:257px;width:418px;height:22px;background:#f0f0f0;"></div>
<span class="t" style="left:568.3px;top:260.1px;height:17px;line-height:17px;font-size:13px;color:#222;transform:scaleX(0.900);">250</span>
<span class="t" style="left:370px;top:283.4px;height:17px;line-height:17px;font-size:13px;color:#111;transform:scaleX(0.875);">Shape</span>
<div class="r" style="left:564px;top:281px;width:419px;height:21px;background:#e4e4e4;"></div>
<span class="t" style="left:570.3px;top:282.5px;height:17px;line-height:17px;font-size:13px;color:#111;transform:scaleX(0.900);">Rectangular</span>
<svg class="r" style="left:970.5px;top:288.8px;" width="8" height="6" viewBox="0 0 8 6"><path d="M0.3 0.8 L7.7 0.8 L4 5.2 Z" fill="#000"/></svg>
<div class="r" style="left:558px;top:206px;width:41px;height:68px;border:4px solid #ff0000;border-radius:9px;z-index:5"></div>
<svg class="r" style="left:342px;top:313px;" width="12" height="9" viewBox="0 0 12 9"><path d="M0.8 1 L10.8 1 L5.8 8 Z" fill="#f37021"/></svg>
<span class="t" style="left:370px;top:309.0px;height:18px;line-height:18px;font-size:14px;color:#f37021;transform:scaleX(0.974);font-weight:700;">Connection</span>
<span class="t" style="left:370px;top:335.9px;height:17px;line-height:17px;font-size:13px;color:#111;transform:scaleX(0.956);">X - position [mm]</span>
<div class="r" style="left:565px;top:333px;width:418px;height:22px;background:#f0f0f0;"></div>
<span class="t" style="left:568.3px;top:336.1px;height:17px;line-height:17px;font-size:13px;color:#222;transform:scaleX(0.996);">460</span>
<span class="t" style="left:370px;top:359.9px;height:17px;line-height:17px;font-size:13px;color:#111;transform:scaleX(0.919);">Material</span>
<div class="r" style="left:564px;top:357px;width:394px;height:22px;background:#e4e4e4;"></div>
<span class="t" style="left:571px;top:359.0px;height:17px;line-height:17px;font-size:13px;color:#111;transform:scaleX(0.900);">&lt; default &gt;</span>
<svg class="r" style="left:945.5px;top:365.3px;" width="8" height="6" viewBox="0 0 8 6"><path d="M0.3 0.8 L7.7 0.8 L4 5.2 Z" fill="#000"/></svg>
<div class="r" style="left:961px;top:357px;width:22px;height:22px;background:#999999;"></div>
<svg class="r" style="left:961px;top:357px;" width="22" height="22" viewBox="0 0 22 22"><path d="M9.2 3 H12.8 V9.2 H19 V12.8 H12.8 V19 H9.2 V12.8 H3 V9.2 H9.2 Z" fill="#fff"/></svg>
<span class="t" style="left:370px;top:383.9px;height:17px;line-height:17px;font-size:13px;color:#111;transform:scaleX(0.930);">Thickness [mm]</span>
<div class="r" style="left:565px;top:381px;width:368px;height:22px;background:#f0f0f0;"></div>
<span class="t" style="left:570.3px;top:384.1px;height:17px;line-height:17px;font-size:13px;color:#222;transform:scaleX(0.900);">0.0</span>
<div class="r" style="left:936px;top:381px;width:22px;height:22px;background:#999999;"></div>
<svg class="r" style="left:936px;top:381px;" width="22" height="22" viewBox="0 0 22 22"><path d="M7.8 8.6 L11.0 4.6 L14.2 8.6 Z M7.8 13.6 L11.0 17.6 L14.2 13.6 Z" fill="#f6f6f6"/></svg>
<div class="r" style="left:961px;top:381px;width:22px;height:22px;background:#999999;"></div>
<svg class="r" style="left:961px;top:381px;" width="22" height="22" viewBox="0 0 22 22"><rect x="6.5" y="14" width="1.6" height="1.8" fill="#fff"/><rect x="10.2" y="14" width="1.6" height="1.8" fill="#fff"/><rect x="13.9" y="14" width="1.6" height="1.8" fill="#fff"/></svg>
<span class="t" style="left:370px;top:407.4px;height:17px;line-height:17px;font-size:13px;color:#111;transform:scaleX(0.969);">Alignment</span>
<div class="r" style="left:564px;top:405px;width:419px;height:21px;background:#e4e4e4;"></div>
<span class="t" style="left:570.3px;top:406.5px;height:17px;line-height:17px;font-size:13px;color:#111;transform:scaleX(0.806);">Rear</span>
<svg class="r" style="left:970.5px;top:412.8px;" width="8" height="6" viewBox="0 0 8 6"><path d="M0.3 0.8 L7.7 0.8 L4 5.2 Z" fill="#000"/></svg>
<span class="t" style="left:370px;top:430.4px;height:17px;line-height:17px;font-size:13px;color:#111;transform:scaleX(0.887);">Type</span>
<div class="r" style="left:564px;top:428px;width:419px;height:21px;background:#e4e4e4;"></div>
<span class="t" style="left:570.3px;top:429.5px;height:17px;line-height:17px;font-size:13px;color:#111;transform:scaleX(0.900);">Cap plate</span>
<svg class="r" style="left:970.5px;top:435.8px;" width="8" height="6" viewBox="0 0 8 6"><path d="M0.3 0.8 L7.7 0.8 L4 5.2 Z" fill="#000"/></svg>
<span class="t" style="left:370px;top:453.9px;height:17px;line-height:17px;font-size:13px;color:#111;transform:scaleX(0.944);">Plate length [mm]</span>
<div class="r" style="left:565px;top:451px;width:418px;height:22px;background:#f0f0f0;"></div>
<span class="t" style="left:568.3px;top:454.1px;height:17px;line-height:17px;font-size:13px;color:#222;transform:scaleX(0.900);">150</span>
<span class="t" style="left:370px;top:477.9px;height:17px;line-height:17px;font-size:13px;color:#111;transform:scaleX(0.950);">Plate width [mm]</span>
<div class="r" style="left:565px;top:475px;width:418px;height:22px;background:#f0f0f0;"></div>
<span class="t" style="left:568.3px;top:478.1px;height:17px;line-height:17px;font-size:13px;color:#222;transform:scaleX(0.900);">0</span>
<span class="t" style="left:370px;top:501.9px;height:17px;line-height:17px;font-size:13px;color:#111;transform:scaleX(0.935);">Plate excentricity [mm]</span>
<div class="r" style="left:565px;top:499px;width:418px;height:22px;background:#f0f0f0;"></div>
<span class="t" style="left:568.3px;top:502.1px;height:17px;line-height:17px;font-size:13px;color:#222;transform:scaleX(0.900);">0</span>
<span class="t" style="left:370px;top:525.9px;height:17px;line-height:17px;font-size:13px;color:#111;transform:scaleX(0.923);">Thickness of cap [mm]</span>
<div class="r" style="left:565px;top:523px;width:368px;height:22px;background:#f0f0f0;"></div>
<span class="t" style="left:570.3px;top:526.1px;height:17px;line-height:17px;font-size:13px;color:#222;transform:scaleX(0.900);">0.0</span>
<div class="r" style="left:936px;top:523px;width:22px;height:22px;background:#999999;"></div>
<svg class="r" style="left:936px;top:523px;" width="22" height="22" viewBox="0 0 22 22"><path d="M7.8 8.6 L11.0 4.6 L14.2 8.6 Z M7.8 13.6 L11.0 17.6 L14.2 13.6 Z" fill="#f6f6f6"/></svg>
<div class="r" style="left:961px;top:523px;width:22px;height:22px;background:#999999;"></div>
<svg class="r" style="left:961px;top:523px;" width="22" height="22" viewBox="0 0 22 22"><rect x="6.5" y="14" width="1.6" height="1.8" fill="#fff"/><rect x="10.2" y="14" width="1.6" height="1.8" fill="#fff"/><rect x="13.9" y="14" width="1.6" height="1.8" fill="#fff"/></svg>
<span class="t" style="left:370px;top:549.9px;height:17px;line-height:17px;font-size:13px;color:#111;transform:scaleX(0.887);">Cap plate offset (LL RR TT BB) [mm]</span>
<div class="r" style="left:565px;top:547px;width:418px;height:22px;background:#f0f0f0;"></div>
<span class="t" style="left:568.3px;top:550.1px;height:17px;line-height:17px;font-size:13px;color:#222;transform:scaleX(0.900);">10</span>
<span class="t" style="left:370px;top:573.4px;height:17px;line-height:17px;font-size:13px;color:#111;transform:scaleX(0.872);">Cap plate shape</span>
<div class="r" style="left:564px;top:571px;width:419px;height:21px;background:#e4e4e4;"></div>
<span class="t" style="left:570.3px;top:572.5px;height:17px;line-height:17px;font-size:13px;color:#111;transform:scaleX(0.900);">Rectangle</span>
<svg class="r" style="left:970.5px;top:578.8px;" width="8" height="6" viewBox="0 0 8 6"><path d="M0.3 0.8 L7.7 0.8 L4 5.2 Z" fill="#000"/></svg>
<span class="t" style="left:370px;top:596.4px;height:17px;line-height:17px;font-size:13px;color:#111;transform:scaleX(0.927);">Connection type</span>
<div class="r" style="left:564px;top:594px;width:419px;height:21px;background:#e4e4e4;"></div>
<span class="t" style="left:570.3px;top:595.5px;height:17px;line-height:17px;font-size:13px;color:#111;transform:scaleX(0.900);">Bolted</span>
<svg class="r" style="left:970.5px;top:601.8px;" width="8" height="6" viewBox="0 0 8 6"><path d="M0.3 0.8 L7.7 0.8 L4 5.2 Z" fill="#000"/></svg>
<div class="r" style="left:557px;top:330px;width:45px;height:19px;border:4px solid #ff0000;border-radius:8px;z-index:5"></div>
<div class="r" style="left:561px;top:402px;width:66px;height:67px;border:4px solid #ff0000;border-radius:8px;z-index:5"></div>
<div class="r" style="left:562px;top:544px;width:25px;height:20px;border:4px solid #ff0000;border-radius:7px;z-index:5"></div>
<svg class="r" style="left:342px;top:626px;" width="12" height="9" viewBox="0 0 12 9"><path d="M0.8 1 L10.8 1 L5.8 8 Z" fill="#f37021"/></svg>
<span class="t" style="left:370px;top:622.0px;height:18px;line-height:18px;font-size:14px;color:#f37021;transform:scaleX(0.996);font-weight:700;">Welds</span>
<span class="t" style="left:370px;top:648.9px;height:17px;line-height:17px;font-size:13px;color:#111;transform:scaleX(0.942);">Plate [mm]</span>
<span class="t" style="left:564px;top:647.0px;height:17px;line-height:17px;font-size:13px;color:#666;transform:scaleX(0.830);">6.0</span>
<div class="r" style="left:590px;top:646px;width:22px;height:22px;background:#999999;"></div>
<svg class="r" style="left:590px;top:646px;" width="22" height="22" viewBox="0 0 22 22"><path d="M7.8 8.6 L11.0 4.6 L14.2 8.6 Z M7.8 13.6 L11.0 17.6 L14.2 13.6 Z" fill="#f6f6f6"/></svg>
<div class="r" style="left:614px;top:646px;width:240px;height:22px;background:#e4e4e4;"></div>
<span class="t" style="left:621px;top:648.0px;height:17px;line-height:17px;font-size:13px;color:#111;transform:scaleX(0.915);">&lt; default &gt;</span>
<svg class="r" style="left:845.5px;top:654.3px;" width="8" height="6" viewBox="0 0 8 6"><path d="M0.3 0.8 L7.7 0.8 L4 5.2 Z" fill="#000"/></svg>
<svg class="r" style="left:864px;top:649px;" width="16" height="16" viewBox="0 0 16 16"><path d="M0.8 11.8 L6.3 5.6 L6.3 11.8 Z" fill="#111"/><rect x="6.5" y="0.5" width="3" height="12" fill="#fff" stroke="#7a7a7a" stroke-width="1"/><rect x="0.5" y="12.5" width="15" height="3" fill="#fff" stroke="#7a7a7a" stroke-width="1"/></svg>
<svg class="r" style="left:889px;top:649px;" width="16" height="16" viewBox="0 0 16 16"><path d="M15.2 11.8 L9.7 5.6 L9.7 11.8 Z" fill="#111"/><rect x="6.5" y="0.5" width="3" height="12" fill="#fff" stroke="#7a7a7a" stroke-width="1"/><rect x="0.5" y="12.5" width="15" height="3" fill="#fff" stroke="#7a7a7a" stroke-width="1"/></svg>
<div class="r" style="left:912px;top:647px;width:20px;height:20px;background:#f37021;"></div>
<svg class="r" style="left:914px;top:649px;" width="16" height="16" viewBox="0 0 16 16"><path d="M0.8 11.8 L6.3 5.6 L6.3 11.8 Z" fill="#111"/><path d="M15.2 11.8 L9.7 5.6 L9.7 11.8 Z" fill="#111"/><rect x="6.5" y="0.5" width="3" height="12" fill="#fff" stroke="#7a7a7a" stroke-width="1"/><rect x="0.5" y="12.5" width="15" height="3" fill="#fff" stroke="#7a7a7a" stroke-width="1"/></svg>
<svg class="r" style="left:939px;top:649px;" width="16" height="16" viewBox="0 0 16 16"><rect x="6.5" y="0.5" width="3" height="12" fill="#fff" stroke="#7a7a7a" stroke-width="1"/><rect x="0.5" y="12.5" width="15" height="3" fill="#fff" stroke="#7a7a7a" stroke-width="1"/><path d="M9.2 6.4 L9.2 12 L6.6 12 Z" fill="#111"/></svg>
<svg class="r" style="left:964px;top:649px;" width="16" height="16" viewBox="0 0 16 16"><rect x="6.5" y="0.5" width="3" height="12" fill="#fff" stroke="#7a7a7a" stroke-width="1"/><rect x="0.5" y="12.5" width="15" height="3" fill="#fff" stroke="#7a7a7a" stroke-width="1"/></svg>
<span class="t" style="left:370px;top:672.9px;height:17px;line-height:17px;font-size:13px;color:#111;transform:scaleX(0.926);">Cap plate [mm]</span>
<span class="t" style="left:564px;top:671.0px;height:17px;line-height:17px;font-size:13px;color:#666;transform:scaleX(0.830);">4.0</span>
<div class="r" style="left:590px;top:670px;width:22px;height:22px;background:#999999;"></div>
<svg class="r" style="left:590px;top:670px;" width="22" height="22" viewBox="0 0 22 22"><path d="M7.8 8.6 L11.0 4.6 L14.2 8.6 Z M7.8 13.6 L11.0 17.6 L14.2 13.6 Z" fill="#f6f6f6"/></svg>
<div class="r" style="left:614px;top:670px;width:240px;height:22px;background:#e4e4e4;"></div>
<span class="t" style="left:621px;top:672.0px;height:17px;line-height:17px;font-size:13px;color:#111;transform:scaleX(0.915);">&lt; default &gt;</span>
<svg class="r" style="left:845.5px;top:678.3px;" width="8" height="6" viewBox="0 0 8 6"><path d="M0.3 0.8 L7.7 0.8 L4 5.2 Z" fill="#000"/></svg>
<div class="r" style="left:862px;top:671px;width:20px;height:20px;background:#f37021;"></div>
<svg class="r" style="left:864px;top:673px;" width="16" height="16" viewBox="0 0 16 16"><path d="M0.8 11.8 L6.3 5.6 L6.3 11.8 Z" fill="#111"/><rect x="6.5" y="0.5" width="3" height="12" fill="#fff" stroke="#7a7a7a" stroke-width="1"/><rect x="0.5" y="12.5" width="15" height="3" fill="#fff" stroke="#7a7a7a" stroke-width="1"/></svg>
<svg class="r" style="left:889px;top:673px;" width="16" height="16" viewBox="0 0 16 16"><path d="M15.2 11.8 L9.7 5.6 L9.7 11.8 Z" fill="#111"/><rect x="6.5" y="0.5" width="3" height="12" fill="#fff" stroke="#7a7a7a" stroke-width="1"/><rect x="0.5" y="12.5" width="15" height="3" fill="#fff" stroke="#7a7a7a" stroke-width="1"/></svg>
<svg class="r" style="left:914px;top:673px;" width="16" height="16" viewBox="0 0 16 16"><path d="M0.8 11.8 L6.3 5.6 L6.3 11.8 Z" fill="#111"/><path d="M15.2 11.8 L9.7 5.6 L9.7 11.8 Z" fill="#111"/><rect x="6.5" y="0.5" width="3" height="12" fill="#fff" stroke="#7a7a7a" stroke-width="1"/><rect x="0.5" y="12.5" width="15" height="3" fill="#fff" stroke="#7a7a7a" stroke-width="1"/></svg>
<svg class="r" style="left:939px;top:673px;" width="16" height="16" viewBox="0 0 16 16"><rect x="6.5" y="0.5" width="3" height="12" fill="#fff" stroke="#7a7a7a" stroke-width="1"/><rect x="0.5" y="12.5" width="15" height="3" fill="#fff" stroke="#7a7a7a" stroke-width="1"/><path d="M9.2 6.4 L9.2 12 L6.6 12 Z" fill="#111"/></svg>
<svg class="r" style="left:964px;top:673px;" width="16" height="16" viewBox="0 0 16 16"><rect x="6.5" y="0.5" width="3" height="12" fill="#fff" stroke="#7a7a7a" stroke-width="1"/><rect x="0.5" y="12.5" width="15" height="3" fill="#fff" stroke="#7a7a7a" stroke-width="1"/></svg>
<span class="t" style="left:370px;top:696.9px;height:17px;line-height:17px;font-size:13px;color:#111;transform:scaleX(0.966);">Tongue [mm]</span>
<span class="t" style="left:564px;top:695.0px;height:17px;line-height:17px;font-size:13px;color:#666;transform:scaleX(0.830);">4.0</span>
<div class="r" style="left:590px;top:694px;width:22px;height:22px;background:#999999;"></div>
<svg class="r" style="left:590px;top:694px;" width="22" height="22" viewBox="0 0 22 22"><path d="M7.8 8.6 L11.0 4.6 L14.2 8.6 Z M7.8 13.6 L11.0 17.6 L14.2 13.6 Z" fill="#f6f6f6"/></svg>
<div class="r" style="left:614px;top:694px;width:240px;height:22px;background:#e4e4e4;"></div>
<span class="t" style="left:621px;top:696.0px;height:17px;line-height:17px;font-size:13px;color:#111;transform:scaleX(0.915);">&lt; default &gt;</span>
<svg class="r" style="left:845.5px;top:702.3px;" width="8" height="6" viewBox="0 0 8 6"><path d="M0.3 0.8 L7.7 0.8 L4 5.2 Z" fill="#000"/></svg>
<svg class="r" style="left:864px;top:697px;" width="16" height="16" viewBox="0 0 16 16"><path d="M0.8 11.8 L6.3 5.6 L6.3 11.8 Z" fill="#111"/><rect x="6.5" y="0.5" width="3" height="12" fill="#fff" stroke="#7a7a7a" stroke-width="1"/><rect x="0.5" y="12.5" width="15" height="3" fill="#fff" stroke="#7a7a7a" stroke-width="1"/></svg>
<svg class="r" style="left:889px;top:697px;" width="16" height="16" viewBox="0 0 16 16"><path d="M15.2 11.8 L9.7 5.6 L9.7 11.8 Z" fill="#111"/><rect x="6.5" y="0.5" width="3" height="12" fill="#fff" stroke="#7a7a7a" stroke-width="1"/><rect x="0.5" y="12.5" width="15" height="3" fill="#fff" stroke="#7a7a7a" stroke-width="1"/></svg>
<div class="r" style="left:912px;top:695px;width:20px;height:20px;background:#f37021;"></div>
<svg class="r" style="left:914px;top:697px;" width="16" height="16" viewBox="0 0 16 16"><path d="M0.8 11.8 L6.3 5.6 L6.3 11.8 Z" fill="#111"/><path d="M15.2 11.8 L9.7 5.6 L9.7 11.8 Z" fill="#111"/><rect x="6.5" y="0.5" width="3" height="12" fill="#fff" stroke="#7a7a7a" stroke-width="1"/><rect x="0.5" y="12.5" width="15" height="3" fill="#fff" stroke="#7a7a7a" stroke-width="1"/></svg>
<svg class="r" style="left:939px;top:697px;" width="16" height="16" viewBox="0 0 16 16"><rect x="6.5" y="0.5" width="3" height="12" fill="#fff" stroke="#7a7a7a" stroke-width="1"/><rect x="0.5" y="12.5" width="15" height="3" fill="#fff" stroke="#7a7a7a" stroke-width="1"/><path d="M9.2 6.4 L9.2 12 L6.6 12 Z" fill="#111"/></svg>
<svg class="r" style="left:964px;top:697px;" width="16" height="16" viewBox="0 0 16 16"><rect x="6.5" y="0.5" width="3" height="12" fill="#fff" stroke="#7a7a7a" stroke-width="1"/><rect x="0.5" y="12.5" width="15" height="3" fill="#fff" stroke="#7a7a7a" stroke-width="1"/></svg>
<div class="r" style="left:553px;top:639px;width:27px;height:70px;border:4px solid #ff0000;border-radius:9px;z-index:5"></div>
<div class="r" style="left:853px;top:637px;width:78px;height:81px;border:4px solid #ff0000;border-radius:9px;z-index:5"></div>
<svg class="r" style="left:342px;top:727px;" width="12" height="9" viewBox="0 0 12 9"><path d="M0.8 1 L10.8 1 L5.8 8 Z" fill="#f37021"/></svg>
<span class="t" style="left:370px;top:723.0px;height:18px;line-height:18px;font-size:14px;color:#f37021;transform:scaleX(0.940);font-weight:700;">Bolts</span>
<span class="t" style="left:370px;top:749.9px;height:17px;line-height:17px;font-size:13px;color:#111;transform:scaleX(0.887);">Type</span>
<div class="r" style="left:564px;top:747px;width:394px;height:22px;background:#e4e4e4;"></div>
<span class="t" style="left:570.3px;top:749.0px;height:17px;line-height:17px;font-size:13px;color:#111;transform:scaleX(0.900);">M20 10.9</span>
<svg class="r" style="left:945.5px;top:755.3px;" width="8" height="6" viewBox="0 0 8 6"><path d="M0.3 0.8 L7.7 0.8 L4 5.2 Z" fill="#000"/></svg>
<div class="r" style="left:961px;top:747px;width:22px;height:22px;background:#999999;"></div>
<svg class="r" style="left:961px;top:747px;" width="22" height="22" viewBox="0 0 22 22"><path d="M9.2 3 H12.8 V9.2 H19 V12.8 H12.8 V19 H9.2 V12.8 H3 V9.2 H9.2 Z" fill="#fff"/></svg>
<span class="t" style="left:370px;top:773.4px;height:17px;line-height:17px;font-size:13px;color:#111;transform:scaleX(0.879);">Reference line</span>
<div class="r" style="left:564px;top:771px;width:419px;height:21px;background:#e4e4e4;"></div>
<span class="t" style="left:570.3px;top:772.5px;height:17px;line-height:17px;font-size:13px;color:#111;transform:scaleX(0.900);">Member x-axis</span>
<svg class="r" style="left:970.5px;top:778.8px;" width="8" height="6" viewBox="0 0 8 6"><path d="M0.3 0.8 L7.7 0.8 L4 5.2 Z" fill="#000"/></svg>
<span class="t" style="left:370px;top:796.9px;height:17px;line-height:17px;font-size:13px;color:#111;transform:scaleX(0.931);">Rows [mm]</span>
<div class="r" style="left:565px;top:794px;width:418px;height:22px;background:#f0f0f0;"></div>
<span class="t" style="left:568.3px;top:797.1px;height:17px;line-height:17px;font-size:13px;color:#222;transform:scaleX(0.900);">0</span>
<span class="t" style="left:370px;top:820.9px;height:17px;line-height:17px;font-size:13px;color:#111;transform:scaleX(0.945);">Positions [mm]</span>
<div class="r" style="left:565px;top:818px;width:418px;height:22px;background:#f0f0f0;"></div>
<span class="t" style="left:568.3px;top:821.1px;height:17px;line-height:17px;font-size:13px;color:#222;transform:scaleX(0.900);">40 50</span>
<span class="t" style="left:370px;top:844.4px;height:17px;line-height:17px;font-size:13px;color:#111;transform:scaleX(0.871);">Grid</span>
<div class="r" style="left:564px;top:842px;width:419px;height:21px;background:#e4e4e4;"></div>
<span class="t" style="left:570.3px;top:843.5px;height:17px;line-height:17px;font-size:13px;color:#111;transform:scaleX(0.900);">Regular</span>
<svg class="r" style="left:970.5px;top:849.8px;" width="8" height="6" viewBox="0 0 8 6"><path d="M0.3 0.8 L7.7 0.8 L4 5.2 Z" fill="#000"/></svg>
<div class="r" style="left:559px;top:743px;width:60px;height:21px;border:4px solid #ff0000;border-radius:8px;z-index:5"></div>
<div class="r" style="left:557px;top:815px;width:45px;height:20px;border:4px solid #ff0000;border-radius:8px;z-index:5"></div>
<div class="r" style="left:957px;top:742px;width:21px;height:22px;border:4px solid #ff0000;border-radius:7px;z-index:5"></div>
</body></html>
